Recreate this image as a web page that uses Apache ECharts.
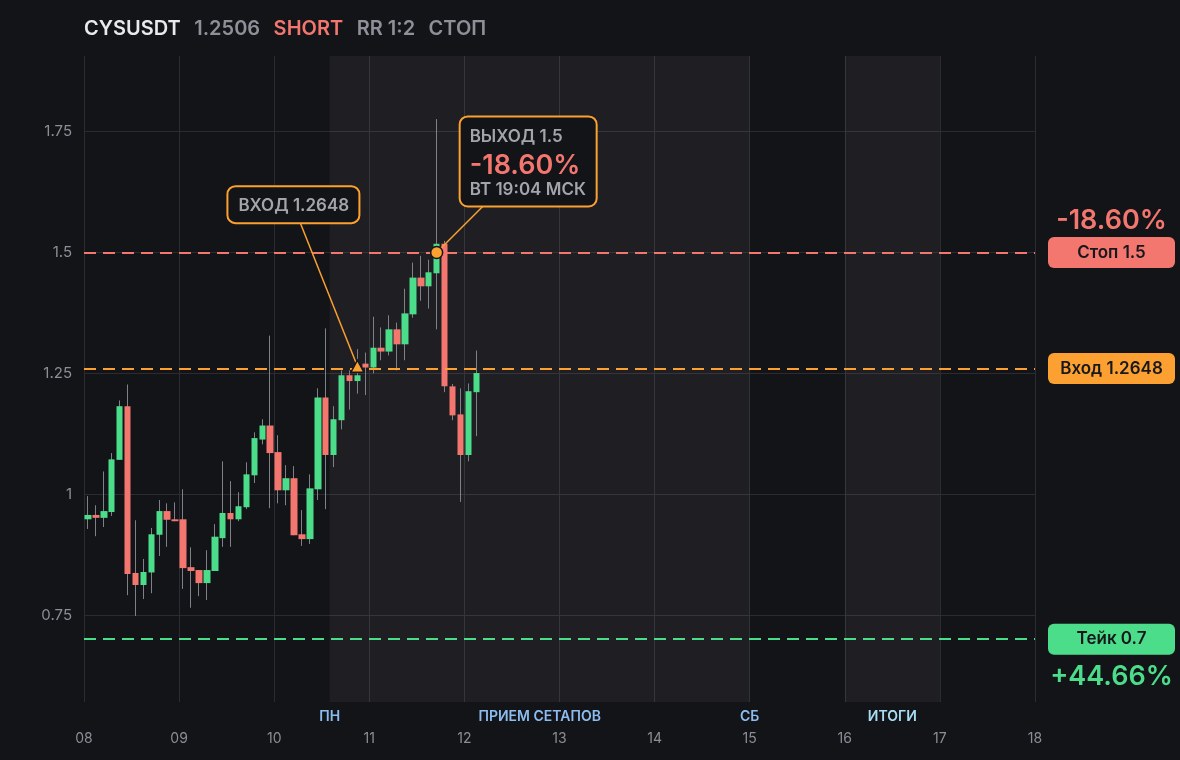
<!DOCTYPE html>
<html><head><meta charset="utf-8">
<script src="https://cdn.jsdelivr.net/npm/echarts@6/dist/echarts.min.js"></script>
<style>html,body{margin:0;padding:0;background:#131418;}#c{width:1180px;height:760px;}</style>
</head><body><div id="c"></div>
<script>
// ---- data (hours since day 08 00:00, 2h candles) ----
const times  = [1,3,5,7,9,11,13,15,17,19,21,23,25,27,29,31,33,35,37,39,41,43,45,47,49,51,53,55,57,59,61,63,65,67,69,71,73,75,77,79,81,83,85,87,89,91,93,95,97,99];
const opens  = [0.948,0.957,0.951,0.963,1.071,1.182,0.837,0.812,0.838,0.916,0.965,0.948,0.948,0.849,0.843,0.816,0.841,0.909,0.961,0.948,0.973,1.039,1.113,1.142,1.087,1.008,1.033,0.917,0.907,1.010,1.200,1.081,1.153,1.246,1.234,1.270,1.262,1.303,1.295,1.341,1.310,1.372,1.448,1.430,1.457,1.518,1.223,1.165,1.081,1.211];
const closes = [0.957,0.951,0.965,1.072,1.182,0.835,0.812,0.839,0.917,0.965,0.947,0.944,0.847,0.841,0.816,0.843,0.912,0.961,0.948,0.975,1.041,1.116,1.142,1.085,1.008,1.033,0.915,0.907,1.012,1.200,1.081,1.155,1.246,1.234,1.246,1.262,1.303,1.295,1.341,1.310,1.374,1.448,1.430,1.459,1.518,1.223,1.163,1.081,1.213,1.2506];
const lows   = [0.928,0.913,0.932,0.955,1.071,0.791,0.748,0.783,0.795,0.872,0.891,0.944,0.804,0.765,0.789,0.781,0.841,0.891,0.891,0.944,0.969,1.023,1.103,0.971,0.981,0.977,0.915,0.893,0.897,0.988,0.969,1.056,1.134,1.175,1.208,1.205,1.250,1.277,1.287,1.256,1.277,1.365,1.400,1.384,1.341,1.211,1.153,0.984,1.068,1.120];
const highs  = [0.996,0.977,1.047,1.085,1.194,1.227,0.946,0.866,0.930,0.988,0.981,0.983,1.010,0.890,0.843,0.884,0.938,1.068,1.027,1.004,1.066,1.128,1.155,1.328,1.122,1.060,1.058,0.967,1.041,1.219,1.343,1.182,1.256,1.256,1.300,1.293,1.367,1.345,1.370,1.355,1.425,1.479,1.493,1.485,1.776,1.524,1.228,1.219,1.229,1.297];
const dayLabels = ['08','09','10','11','12','13','14','15','16','17','18'];
const yTicks = [0.75, 1, 1.25, 1.5, 1.75];
const symbolName = 'CYSUSDT', lastPrice = '1.2506', side = 'SHORT', rr = 'RR 1:2', result = 'СТОП';
const entryPrice = 1.2648, stopPrice = 1.5, takePrice = 0.7;
const entryTime = 69, exitTime = 89, exitPrice = 1.5, exitTimeText = 'ВТ 19:04 МСК';
const stopPct = '-18.60%', takePct = '+44.66%';
const sessionMarks = [{name: 'ПН', hour: 62}, {name: 'СБ', hour: 168}];
const zones = [{name: 'ПРИЕМ СЕТАПОВ', from: 62, to: 168, color: '#8cbcf0'}, {name: 'ИТОГИ', from: 192, to: 216, color: '#a8ddf3'}];

// ---- styles ----
const BG = '#131418', GRID = '#2a2c32', AXT = '#8b8e96';
const UP = '#4cdd8b', DOWN = '#f3766f', ORANGE = '#fba031', WICK = '#7e8188';
const FONT = 'Inter';

const wickData = times.map((t, i) => [t, opens[i], closes[i], lows[i], highs[i]]);
const bodyData = times.map((t, i) => [t, opens[i], closes[i], Math.min(opens[i], closes[i]), Math.max(opens[i], closes[i])]);

function pillRich(color, pctH) {
  return {
    pill: {width: 127, height: 31, lineHeight: 31, align: 'center', backgroundColor: color, borderRadius: 6,
           color: '#17181c', fontSize: 17, fontWeight: 600, fontFamily: FONT},
    pct: {width: 127, height: pctH, lineHeight: pctH, align: 'center', color: color, fontSize: 27, fontWeight: 600, fontFamily: FONT},
    sp: {width: 127, height: pctH, lineHeight: pctH, fontSize: 10}
  };
}

const priceLines = [
  {yAxis: stopPrice, lineStyle: {color: DOWN},
   label: {formatter: '{pct|' + stopPct + '}\n{pill|Стоп ' + stopPrice + '}\n{sp| }', rich: pillRich(DOWN, 33)}},
  {yAxis: entryPrice, lineStyle: {color: ORANGE},
   label: {formatter: '{pill|Вход ' + entryPrice + '}', rich: pillRich(ORANGE, 31)}},
  {yAxis: takePrice, lineStyle: {color: UP},
   label: {formatter: '{sp| }\n{pill|Тейк ' + takePrice + '}\n{pct|' + takePct + '}', rich: pillRich(UP, 45)}}
];

const titleTok = c => ({fontSize: 20, fontWeight: 600, fontFamily: FONT, color: c, padding: [0, 13.5, 0, 0]});

const chart = echarts.init(document.getElementById('c'), null, {renderer: 'canvas'});
const option = {
  backgroundColor: BG,
  animation: false,
  textStyle: {fontFamily: FONT},
  title: {
    left: 84, top: 19, padding: 0,
    text: '{a|' + symbolName + '}{b|' + lastPrice + '}{c|' + side + '}{b|' + rr + '}{b|' + result + '}',
    textStyle: {
      fontSize: 20, fontFamily: FONT, fontWeight: 600, color: '#8d9098',
      rich: {a: titleTok('#e9eaed'), b: titleTok('#8d9098'), c: titleTok(DOWN)}
    }
  },
  grid: {left: 84, right: 145, top: 56, bottom: 58},
  xAxis: {
    type: 'value', min: 0, max: 240, interval: 24,
    axisLine: {show: false}, axisTick: {show: false},
    splitLine: {show: true, lineStyle: {color: GRID, width: 1}},
    axisLabel: {color: AXT, fontSize: 14, fontFamily: FONT, margin: 30,
                formatter: v => dayLabels[Math.round(v / 24)]}
  },
  yAxis: {
    type: 'value', min: 0.57, max: 1.9065, scale: true,
    axisLine: {show: false}, axisTick: {show: false, customValues: yTicks},
    splitLine: {show: true, lineStyle: {color: GRID, width: 1}, customValues: yTicks},
    axisLabel: {color: AXT, fontSize: 15, fontFamily: FONT, margin: 12, customValues: yTicks}
  },
  series: [
    {
      type: 'candlestick', name: 'wicks', data: wickData, barWidth: 1, silent: true,
      itemStyle: {color: WICK, color0: WICK, borderColor: WICK, borderColor0: WICK, borderColorDoji: WICK, borderWidth: 1},
      markArea: {
        silent: true,
        itemStyle: {color: 'rgba(255,255,255,0.05)'},
        data: zones.map(z => [
          {xAxis: z.from, name: z.name, label: {color: z.color}},
          {xAxis: z.to}
        ]),
        label: {show: true, position: 'bottom', distance: 8, fontSize: 14, fontWeight: 600, fontFamily: FONT}
      },
      markLine: {
        silent: true, symbol: ['none', 'none'],
        lineStyle: {color: 'rgba(0,0,0,0)', width: 0},
        label: {show: true, position: 'start', distance: 8, color: '#8cbcf0', fontSize: 14, fontWeight: 600, fontFamily: FONT,
                formatter: p => p.name},
        data: sessionMarks.map(s => ({xAxis: s.hour, name: s.name}))
      }
    },
    {
      type: 'candlestick', name: 'bodies', data: bodyData, barWidth: 7, silent: true,
      itemStyle: {color: UP, color0: DOWN, borderColor: UP, borderColor0: DOWN, borderColorDoji: UP, borderWidth: 0},
      markLine: {
        silent: true, symbol: ['none', 'none'],
        lineStyle: {type: [12, 7], width: 2},
        label: {show: true, position: 'end', distance: 13, fontFamily: FONT},
        data: priceLines
      }
    },
    {
      type: 'scatter', z: 20, silent: true,
      data: [
        {value: [entryTime, entryPrice], symbol: 'triangle', symbolSize: [13, 12]},
        {value: [exitTime, exitPrice], symbol: 'circle', symbolSize: 12}
      ],
      itemStyle: {color: ORANGE, borderColor: '#16171b', borderWidth: 1.5, opacity: 1}
    }
  ]
};
chart.setOption(option);

const pE = chart.convertToPixel({gridIndex: 0}, [entryTime, entryPrice]);
const pX = chart.convertToPixel({gridIndex: 0}, [exitTime, exitPrice]);
const GRAY = '#a2a5ac';
chart.setOption({
  graphic: [
    {type: 'line', z: 9, shape: {x1: pE[0] - 57, y1: pE[1] - 143, x2: pE[0], y2: pE[1]}, style: {stroke: ORANGE, lineWidth: 1.5}},
    {type: 'rect', z: 10, shape: {x: pE[0] - 130, y: pE[1] - 180, width: 132, height: 37, r: 8}, style: {fill: BG, stroke: ORANGE, lineWidth: 2}},
    {type: 'text', z: 11, x: pE[0] - 119, y: pE[1] - 160.5, style: {text: 'ВХОД ' + entryPrice, fill: GRAY, fontSize: 17, fontWeight: 600, fontFamily: FONT, verticalAlign: 'middle'}},
    {type: 'line', z: 9, shape: {x1: pX[0] + 46, y1: pX[1] - 46, x2: pX[0], y2: pX[1]}, style: {stroke: ORANGE, lineWidth: 1.5}},
    {type: 'rect', z: 10, shape: {x: pX[0] + 23, y: pX[1] - 136, width: 137, height: 90, r: 8}, style: {fill: BG, stroke: ORANGE, lineWidth: 2}},
    {type: 'text', z: 11, x: pX[0] + 33, y: pX[1] - 116, style: {text: 'ВЫХОД ' + exitPrice, fill: GRAY, fontSize: 17, fontWeight: 600, fontFamily: FONT, verticalAlign: 'middle'}},
    {type: 'text', z: 11, x: pX[0] + 33, y: pX[1] - 87, style: {text: stopPct, fill: DOWN, fontSize: 27, fontWeight: 600, fontFamily: FONT, verticalAlign: 'middle'}},
    {type: 'text', z: 11, x: pX[0] + 33, y: pX[1] - 63, style: {text: exitTimeText, fill: GRAY, fontSize: 17, fontWeight: 600, fontFamily: FONT, verticalAlign: 'middle'}}
  ]
});
</script></body></html>
